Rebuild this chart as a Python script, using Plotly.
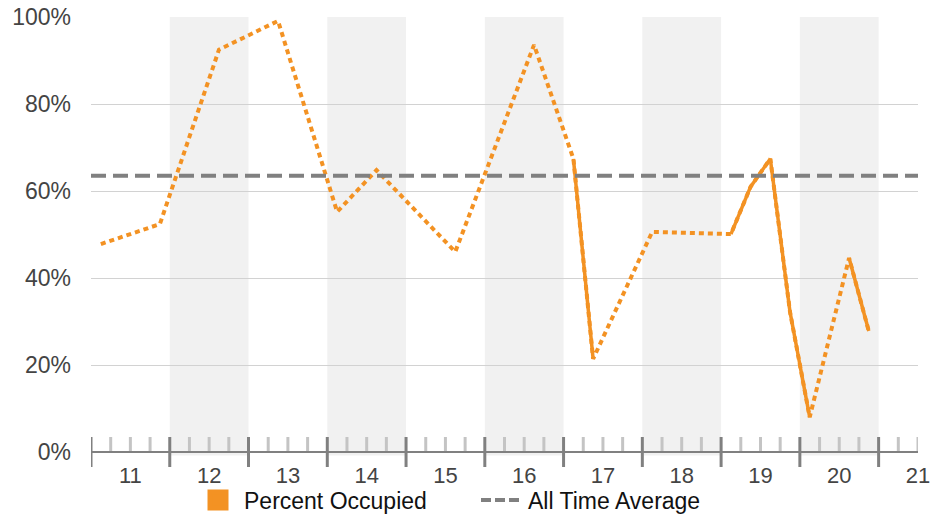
import plotly.graph_objects as go
import numpy as np

# ---- data ----
x_pos = [10.625, 11.375, 12.125, 12.875, 13.625, 14.125, 15.125, 16.125, 16.625,
         16.875, 17.625, 18.625, 18.875, 19.125, 19.375, 19.625, 20.125, 20.375]
occupied = [47.8, 52.4, 92.5, 99.1, 55.2, 64.8, 46.0, 93.6, 67.4,
            21.4, 50.6, 50.1, 61.0, 67.4, 32.2, 8.0, 44.6, 27.8]
all_time_average = 63.5
day_labels = ["11", "12", "13", "14", "15", "16", "17", "18", "19", "20", "21"]
day_values = [11, 12, 13, 14, 15, 16, 17, 18, 19, 20, 21]
y_ticks = [0, 20, 40, 60, 80, 100]

ORANGE = "#F39223"
GRAY = "#808080"
X_MIN, X_MAX = 10.5, 21.0

fig = go.Figure()

# dotted line through all points (gaps)
fig.add_trace(go.Scatter(x=x_pos, y=occupied, mode="lines",
                         line=dict(color=ORANGE, width=4, dash="5px,4px"),
                         showlegend=False, hoverinfo="skip"))

# solid segments where points are consecutive bins
sx, sy = [], []
for i in range(len(x_pos) - 1):
    if abs(x_pos[i + 1] - x_pos[i] - 0.25) < 1e-6:
        sx += [x_pos[i], x_pos[i + 1], None]
        sy += [occupied[i], occupied[i + 1], None]
fig.add_trace(go.Scatter(x=sx, y=sy, mode="lines",
                         line=dict(color=ORANGE, width=3.5),
                         showlegend=False, hoverinfo="skip"))

# average line
fig.add_trace(go.Scatter(x=[X_MIN, X_MAX], y=[all_time_average] * 2, mode="lines",
                         line=dict(color=GRAY, width=4, dash="15px,7px"),
                         showlegend=False, hoverinfo="skip"))

# legend entries
fig.add_trace(go.Scatter(x=[None], y=[None], mode="markers", name="Percent Occupied",
                         marker=dict(symbol="square", size=20, color=ORANGE,
                                     line=dict(color=ORANGE, width=5))))
fig.add_trace(go.Scatter(x=[None], y=[None], mode="lines", name="All Time Average",
                         line=dict(color=GRAY, width=4, dash="10px,4px")))

shapes = []
# alternating day bands
for d in day_values:
    if d % 2 == 0 and d < X_MAX:
        shapes.append(dict(type="rect", xref="x", yref="paper", x0=d - 0.5, x1=d + 0.5,
                           y0=-0.008, y1=1, fillcolor="#F1F1F1", line=dict(width=0),
                           layer="below"))
# tick marks
plot_h = 452 - 17
for t in np.arange(X_MIN, X_MAX + 0.001, 0.25):
    major = abs((t - 0.5) - round(t - 0.5)) < 1e-6
    if major:
        shapes.append(dict(type="line", xref="x", yref="paper", x0=t, x1=t,
                           y0=-15 / plot_h, y1=15 / plot_h,
                           line=dict(color=GRAY, width=3)))
    else:
        shapes.append(dict(type="line", xref="x", yref="paper", x0=t, x1=t,
                           y0=0, y1=15 / plot_h,
                           line=dict(color="#C4C4C4", width=3)))
# axis line
shapes.append(dict(type="line", xref="x", yref="paper", x0=X_MIN, x1=X_MAX, y0=0, y1=0,
                   line=dict(color=GRAY, width=2)))

fig.update_layout(
    width=932, height=516,
    margin=dict(l=91, r=14, t=17, b=64, autoexpand=False),
    paper_bgcolor="white", plot_bgcolor="white",
    font=dict(family="Liberation Sans, Arial, sans-serif", size=22, color="#444444"),
    shapes=shapes,
    showlegend=True,
    legend=dict(orientation="h", xref="container", yref="container",
                x=192 / 932, xanchor="left", y=1 - 500 / 516, yanchor="middle",
                font=dict(size=23, color="#111111"), entrywidth=227, itemwidth=42,
                bgcolor="rgba(0,0,0,0)", borderwidth=0),
    xaxis=dict(range=[X_MIN, X_MAX], tickmode="array", tickvals=day_values,
               ticktext=day_labels, ticks="", showgrid=False, zeroline=False,
               showline=False, ticklabelstandoff=8, fixedrange=True, automargin=False),
    yaxis=dict(range=[0, 100], tickmode="array", tickvals=y_ticks,
               ticktext=[f"{v}%" for v in y_ticks], showgrid=True, gridcolor="#D2D2D2",
               gridwidth=1, zeroline=False, showline=False, ticks="",
               ticklabelstandoff=19, automargin=False, tickfont=dict(size=23)),
)

fig.write_html("out.html", config={"displayModeBar": False},
               post_script="document.body.style.margin='0';document.body.style.overflow='hidden';")
